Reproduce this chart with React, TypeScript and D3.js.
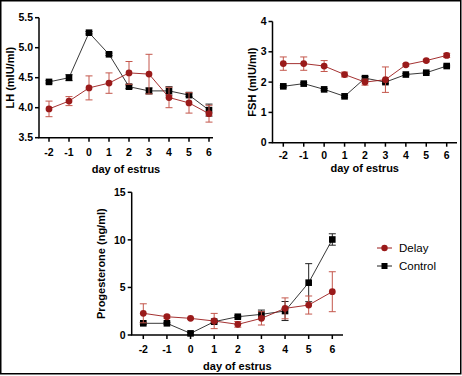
import React from "react";
import * as d3 from "d3";

const days = [-2, -1, 0, 1, 2, 3, 4, 5, 6];

const lhDelay = [3.98, 4.11, 4.33, 4.41, 4.58, 4.56, 4.17, 4.08, 3.9];
const lhDelayErr = [0.13, 0.075, 0.2, 0.17, 0.19, 0.33, 0.17, 0.17, 0.14];
const lhControl = [4.43, 4.5, 5.25, 4.89, 4.35, 4.28, 4.28, 4.21, 3.96];
const lhControlErr = [0.02, 0.05, 0.02, 0.02, 0.03, 0.05, 0.07, 0.02, 0.1];

const fshDelay = [2.61, 2.61, 2.53, 2.25, 2.0, 2.08, 2.57, 2.71, 2.88];
const fshDelayErr = [0.22, 0.22, 0.18, 0.08, 0.1, 0.42, 0.04, 0.04, 0.07];
const fshControl = [1.86, 1.95, 1.76, 1.53, 2.13, 2.0, 2.25, 2.31, 2.53];
const fshControlErr = [0.03, 0.03, 0.03, 0.03, 0.05, 0.05, 0.03, 0.03, 0.03];

const progDelay = [2.28, 1.92, 1.75, 1.47, 1.12, 1.75, 2.8, 3.15, 4.55];
const progDelayErr = [1.0, 0.15, 0.1, 0.8, 0.3, 0.7, 1.1, 0.95, 2.1];
const progControl = [1.23, 1.23, 0.17, 1.4, 1.92, 2.17, 2.52, 5.5, 10.04];
const progControlErr = [0.1, 0.1, 0.1, 0.1, 0.1, 0.45, 1.0, 2.0, 0.6];

const lhTicks = [3.5, 4.0, 4.5, 5.0, 5.5];
const fshTicks = [0, 1, 2, 3, 4];
const progTicks = [0, 5, 10, 15];

const seriesNames = ["Delay", "Control"];
const RED = "#9a1a1a";
const RED_ERR = "#c4574c";
const BLACK = "#000";
const FONT = "'Liberation Sans', Arial, sans-serif";

type PanelProps = {
  x0: number; x6: number; axisX: number; axisEnd: number;
  yTop: number; yBottom: number; yDomain: [number, number];
  ticks: number[]; fmt: (v: number) => string;
  delay: number[]; delayErr: number[]; control: number[]; controlErr: number[];
  yLabel: string; yLabelX: number; xLabelY: number; tickLabelY: number;
};

function Panel(p: PanelProps) {
  const x = d3.scaleLinear().domain([-2, 6]).range([p.x0, p.x6]);
  const y = d3.scaleLinear().domain(p.yDomain).range([p.yBottom, p.yTop]);
  const line = d3.line<number>().x((_, i) => x(days[i])).y((d) => y(d));
  const cap = 3.5;
  const errBars = (vals: number[], errs: number[], color: string, w: number) =>
    vals.map((v, i) => {
      const cx = x(days[i]);
      const t = y(v + errs[i]);
      const b = y(v - errs[i]);
      return (
        <g key={i} stroke={color} strokeWidth={w}>
          <line x1={cx} x2={cx} y1={t} y2={b} />
          <line x1={cx - cap} x2={cx + cap} y1={t} y2={t} />
          <line x1={cx - cap} x2={cx + cap} y1={b} y2={b} />
        </g>
      );
    });
  const midY = (p.yTop + p.yBottom) / 2;
  const midX = (p.axisX + p.axisEnd) / 2;
  return (
    <g>
      <path d={line(p.control) || ""} fill="none" stroke="#222" strokeWidth={0.9} />
      {errBars(p.control, p.controlErr, "#222", 1)}
      {p.control.map((v, i) => (
        <rect key={i} x={x(days[i]) - 3.3} y={y(v) - 3.3} width={6.6} height={6.6} fill={BLACK} />
      ))}
      <path d={line(p.delay) || ""} fill="none" stroke={RED} strokeWidth={0.9} />
      {errBars(p.delay, p.delayErr, RED_ERR, 1)}
      {p.delay.map((v, i) => (
        <circle key={i} cx={x(days[i])} cy={y(v)} r={3.4} fill={RED} />
      ))}
      <line x1={p.axisX} x2={p.axisX} y1={p.yTop} y2={p.yBottom} stroke="#000" strokeWidth={1.5} />
      <line x1={p.axisX - 0.75} x2={p.axisEnd} y1={p.yBottom} y2={p.yBottom} stroke="#000" strokeWidth={1.5} />
      {p.ticks.map((t) => (
        <g key={t}>
          <line x1={p.axisX - 4} x2={p.axisX} y1={y(t)} y2={y(t)} stroke="#000" strokeWidth={1.5} />
          <text x={p.axisX - 6} y={y(t)} dy="0.35em" textAnchor="end" fontSize={10.5} fontWeight="bold" fontFamily={FONT}>
            {p.fmt(t)}
          </text>
        </g>
      ))}
      {days.map((d) => (
        <g key={d}>
          <line x1={x(d)} x2={x(d)} y1={p.yBottom} y2={p.yBottom + 4} stroke="#000" strokeWidth={1.5} />
          <text x={x(d)} y={p.tickLabelY} dy="0.35em" textAnchor="middle" fontSize={10.5} fontWeight="bold" fontFamily={FONT}>
            {d}
          </text>
        </g>
      ))}
      <text x={midX} y={p.xLabelY} dy="0.35em" textAnchor="middle" fontSize={11} fontWeight="bold" fontFamily={FONT}>
        day of estrus
      </text>
      <text transform={`translate(${p.yLabelX},${midY}) rotate(-90)`} dy="0.35em" textAnchor="middle" fontSize={11} fontWeight="bold" fontFamily={FONT}>
        {p.yLabel}
      </text>
    </g>
  );
}

export default function App() {
  return (
    <svg width={462} height={376} style={{ position: "absolute", left: 0, top: 0, background: "#fff" }}>
      <rect x={0} y={0} width={462} height={376} fill="#fff" />
      <Panel
        x0={49} x6={209} axisX={39} axisEnd={213}
        yTop={17.7} yBottom={137.7} yDomain={[3.5, 5.5]}
        ticks={lhTicks} fmt={(v) => v.toFixed(1)}
        delay={lhDelay} delayErr={lhDelayErr} control={lhControl} controlErr={lhControlErr}
        yLabel="LH (mIU/ml)" yLabelX={10} xLabelY={169} tickLabelY={152}
      />
      <Panel
        x0={283.3} x6={446.7} axisX={272.5} axisEnd={457}
        yTop={21.5} yBottom={142.7} yDomain={[0, 4]}
        ticks={fshTicks} fmt={(v) => String(v)}
        delay={fshDelay} delayErr={fshDelayErr} control={fshControl} controlErr={fshControlErr}
        yLabel="FSH (mIU/ml)" yLabelX={252.5} xLabelY={168.5} tickLabelY={155}
      />
      <Panel
        x0={143.3} x6={332.3} axisX={131.7} axisEnd={343}
        yTop={192.3} yBottom={335} yDomain={[0, 15]}
        ticks={progTicks} fmt={(v) => String(v)}
        delay={progDelay} delayErr={progDelayErr} control={progControl} controlErr={progControlErr}
        yLabel="Progesterone (ng/ml)" yLabelX={101.5} xLabelY={366.5} tickLabelY={349.5}
      />
      {seriesNames.map((name, i) => {
        const ly = 248 + i * 18;
        return (
          <g key={name}>
            <line x1={377} x2={392} y1={ly} y2={ly} stroke={i === 0 ? RED : "#222"} strokeWidth={1} />
            {i === 0 ? (
              <circle cx={384.5} cy={ly} r={3.2} fill={RED} />
            ) : (
              <rect x={381.5} y={ly - 3} width={6} height={6} fill={BLACK} />
            )}
            <text x={399} y={ly} dy="0.35em" fontSize={11.5} fontFamily={FONT}>
              {name}
            </text>
          </g>
        );
      })}
      <rect x={0.75} y={0.75} width={460} height={373} fill="none" stroke="#000" strokeWidth={1.5} />
    </svg>
  );
}
